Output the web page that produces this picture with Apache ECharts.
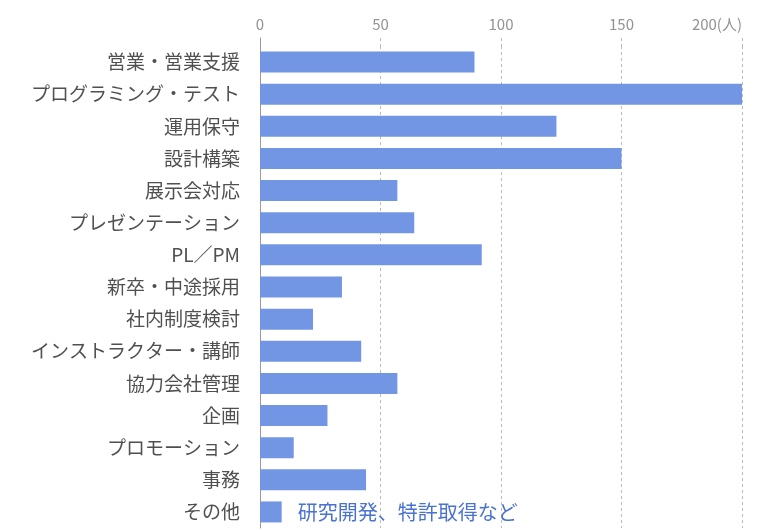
<!DOCTYPE html>
<html lang="ja">
<head>
<meta charset="UTF-8">
<style>
  html, body { margin: 0; height: 100%; background: #fff; }
  #chart { width: 775px; height: 530px; }
</style>
</head>
<body>
<div id="chart"></div>
<script src="https://cdn.jsdelivr.net/npm/echarts@6/dist/echarts.min.js"></script>
<script>
var categories = ['営業・営業支援', 'プログラミング・テスト', '運用保守', '設計構築', '展示会対応',
    'プレゼンテーション', 'PL／PM', '新卒・中途採用', '社内制度検討', 'インストラクター・講師',
    '協力会社管理', '企画', 'プロモーション', '事務', 'その他'];
var values = [89, 200, 123, 150, 57, 64, 92, 34, 22, 42, 57, 28, 14, 44, 9];
var otherNote = '研究開発、特許取得など';
var tickUnit = '(人)';

var font = '"Noto Sans CJK JP", "Noto Sans", sans-serif';
var barColor = '#7396e4';

var chart = echarts.init(document.getElementById('chart'));
chart.setOption({
    animation: false,
    grid: [
        { left: 260, right: 33, top: 46, bottom: 2 },
        { left: 260, right: 33, top: 38, height: 8 }
    ],
    xAxis: [{
        type: 'value', gridIndex: 0, position: 'top',
        min: 0, max: 200, interval: 50,
        axisLine: { show: false }, axisTick: { show: false },
        axisLabel: { show: false },
        splitLine: { lineStyle: { color: '#bbbbbb', type: [3, 3], width: 1 } }
    }, {
        type: 'value', gridIndex: 1, position: 'top',
        min: 0, max: 200, interval: 50,
        axisLine: { show: false }, axisTick: { show: false },
        axisLabel: {
            margin: 6, fontFamily: font, fontSize: 15, color: '#939393',
            alignMaxLabel: 'right',
            formatter: function (v) { return v === 200 ? v + tickUnit : v; }
        },
        splitLine: { lineStyle: { color: '#bbbbbb', type: [3, 3], width: 1 } }
    }],
    yAxis: [{
        type: 'category', gridIndex: 0, inverse: true, data: categories,
        axisLine: { lineStyle: { color: '#999', width: 1 } },
        axisTick: { show: false },
        axisLabel: { margin: 20, fontFamily: font, fontSize: 19, color: '#505050' }
    }, {
        type: 'category', gridIndex: 1, data: [''],
        axisLine: { lineStyle: { color: '#999', width: 1 } },
        axisTick: { show: false }, axisLabel: { show: false }
    }],
    series: [{
        type: 'bar', xAxisIndex: 0, yAxisIndex: 0,
        barWidth: 21,
        itemStyle: { color: barColor },
        data: values.map(function (v, i) {
            if (i === values.length - 1) {
                return {
                    value: v,
                    label: {
                        show: true, position: 'right', distance: 16,
                        formatter: otherNote,
                        fontFamily: font, fontSize: 20, color: '#4a72d0'
                    }
                };
            }
            return v;
        })
    }]
});
</script>
</body>
</html>
